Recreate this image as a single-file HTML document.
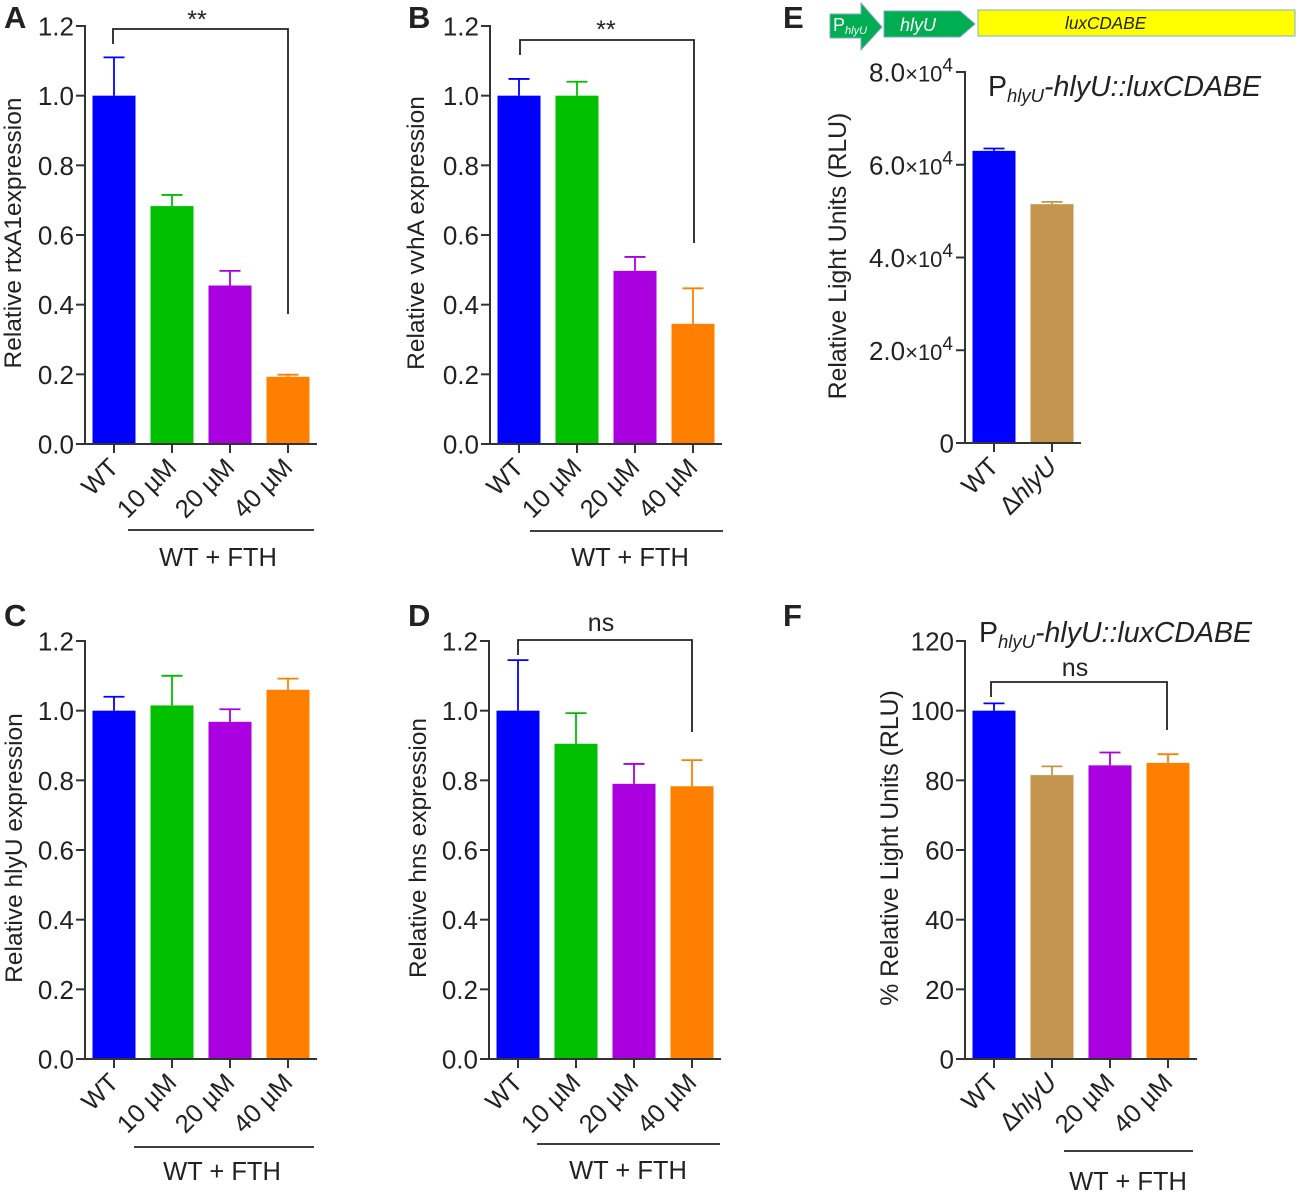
<!DOCTYPE html>
<html>
<head>
<meta charset="utf-8">
<title>FTH expression panels</title>
<style>
html,body{margin:0;padding:0;background:#fff;width:1299px;height:1194px;overflow:hidden}
svg{display:block}
text{font-family:"Liberation Sans",sans-serif;fill:#222}
</style>
</head>
<body>
<svg id="figure" xmlns="http://www.w3.org/2000/svg" width="1299" height="1194" viewBox="0 0 1299 1194">
  <g>
    <polygon points="830,14 861,14 861,3 882,27 861,50 861,38 830,38" fill="#00ad50" stroke="#7fa8c8" stroke-width="1"/>
    <polygon points="884,11 960,11 975,24 960,37 884,37" fill="#00ad50" stroke="#7fa8c8" stroke-width="1"/>
    <rect x="978" y="10" width="317" height="26" fill="#ffff00" stroke="#7fb0d0" stroke-width="1"/>
    <text x="833" y="31" font-size="18" style="fill:#fff">P<tspan font-size="11" font-style="italic" dy="3">hlyU</tspan></text>
    <text x="900" y="31" font-size="18" font-style="italic" style="fill:#fff">hlyU</text>
    <text x="1065" y="29" font-size="17.2" font-style="italic">luxCDABE</text>
  </g>
  <text x="988" y="96" font-size="28.5">P<tspan font-size="18.5" font-style="italic" dy="6">hlyU</tspan><tspan font-style="italic" dy="-6">-hlyU::luxCDABE</tspan></text>
  <text x="979" y="642" font-size="28.5">P<tspan font-size="18.5" font-style="italic" dy="6">hlyU</tspan><tspan font-style="italic" dy="-6">-hlyU::luxCDABE</tspan></text>
</svg>
<script>
const SVG_NS = 'http://www.w3.org/2000/svg';

const categoriesFTH = ['WT', '10 µM', '20 µM', '40 µM'];
const categoriesE = ['WT', 'ΔhlyU'];
const categoriesF = ['WT', 'ΔhlyU', '20 µM', '40 µM'];

const valuesA = [1.0, 0.683, 0.455, 0.193];
const errorsA = [0.11, 0.032, 0.042, 0.006];
const valuesB = [1.0, 1.0, 0.497, 0.345];
const errorsB = [0.048, 0.04, 0.04, 0.102];
const valuesC = [1.0, 1.015, 0.968, 1.06];
const errorsC = [0.04, 0.085, 0.036, 0.032];
const valuesD = [1.0, 0.905, 0.79, 0.783];
const errorsD = [0.145, 0.088, 0.057, 0.075];
const valuesE = [63000, 51500];
const errorsE = [500, 500];
const valuesF = [100, 81.5, 84.3, 85];
const errorsF = [2.1, 2.5, 3.7, 2.5];

const ticksRatio = [0, 0.2, 0.4, 0.6, 0.8, 1.0, 1.2];
const ticksRatioLabels = ['0.0', '0.2', '0.4', '0.6', '0.8', '1.0', '1.2'];
const ticksE = [0, 20000, 40000, 60000, 80000];
const ticksELabels = ['0', '2.0', '4.0', '6.0', '8.0'];
const ticksF = [0, 20, 40, 60, 80, 100, 120];
const ticksFLabels = ['0', '20', '40', '60', '80', '100', '120'];

const BLUE = '#0000ff', GREEN = '#00c000', PURPLE = '#aa00e0', ORANGE = '#ff8000', TAN = '#c4954f';
const root = document.getElementById('figure');

function make(tag, parent, props) {
  const el = document.createElementNS(SVG_NS, tag);
  for (const k in props) el.setAttribute(k, props[k]);
  parent.appendChild(el);
  return el;
}

function drawPanel(p) {
  const yScale = v => p.yZero - (v / p.yMax) * (p.yZero - p.yTop);
  const xScale = i => p.firstCenter + i * p.step;

  const g = make('g', root, {});
  
  

  const letter = make('text', g, {x: p.letterX, y: p.letterY, 'font-size': 31, 'font-weight': 'bold'});
  
  
  letter.textContent = p.id.toUpperCase();

  const title = make('text', g, {
    transform: 'translate(' + p.titleX + ',' + p.titleY + ') rotate(-90)',
    'text-anchor': 'middle', 'font-size': p.titleSize
  });
  
  
  title.textContent = p.title;

  p.values.forEach((v, i) => {
    const cx = xScale(i);
    const color = p.colors[i];
    const top = yScale(v);
    const errTop = yScale(v + p.errors[i]);

    const stem = make('line', g, {x1: cx, x2: cx, y1: top, y2: errTop, stroke: color, 'stroke-width': 1.8});
    
    

    const cap = make('line', g, {x1: cx - 10.5, x2: cx + 10.5, y1: errTop, y2: errTop, stroke: color, 'stroke-width': 1.8});
    
    

    const bar = make('rect', g, {x: cx - 21.5, y: top, width: 43, height: p.yZero - top, fill: color});
    
    

    const tick = make('line', g, {x1: cx, x2: cx, y1: p.yZero, y2: p.yZero + 9, stroke: '#333', 'stroke-width': 2});
    
    

    const name = p.categories[i];
    const lx = cx + 6;
    const ly = p.yZero + 25;
    const label = make('text', g, {
      transform: 'translate(' + lx + ',' + ly + ') rotate(-45)',
      'text-anchor': 'end', 'font-size': 25.5
    });
    
    
    if (name.startsWith('Δ')) {
      const d = make('tspan', label, {});
      d.textContent = 'Δ';
      const rest = make('tspan', label, {'font-style': 'italic'});
      rest.textContent = name.slice(1);
    } else {
      label.textContent = name;
    }
  });

  const yAxis = make('line', g, {x1: p.axisX, x2: p.axisX, y1: p.yTop - 1, y2: p.yZero + 1, stroke: '#333', 'stroke-width': 2});
  
  

  const xAxis = make('line', g, {x1: p.axisX - 9, x2: p.axisEnd, y1: p.yZero, y2: p.yZero, stroke: '#333', 'stroke-width': 2});
  
  

  p.ticks.forEach((t, i) => {
    const y = yScale(t);
    const tick = make('line', g, {x1: p.axisX - 9, x2: p.axisX, y1: y, y2: y, stroke: '#333', 'stroke-width': 2});
    
    

    const label = make('text', g, {
      x: p.axisX - (p.sci && t !== 0 ? 12 : 11), y: y + 9.5, 'text-anchor': 'end', 'font-size': 26
    });
    
    
    label.textContent = p.tickLabels[i];
    if (p.sci && t !== 0) {
      const times = make('tspan', label, {'font-size': 22});
      times.textContent = '×10';
      const exp = make('tspan', label, {'font-size': 19, dy: -10});
      exp.textContent = p.sciExp;
    }
  });

  if (p.bracket) {
    const b = p.bracket;
    const path = make('polyline', g, {
      points: b.x1 + ',' + b.y1 + ' ' + b.x1 + ',' + b.top + ' ' + b.x2 + ',' + b.top + ' ' + b.x2 + ',' + b.y2,
      fill: 'none', stroke: '#222', 'stroke-width': 1.8
    });
    
    

    const mark = make('text', g, {x: b.labelX, y: b.labelY, 'text-anchor': 'middle', 'font-size': b.size});
    
    
    mark.textContent = b.label;
  }

  if (p.group) {
    const gr = p.group;
    const line = make('line', g, {x1: gr.x1, x2: gr.x2, y1: gr.y, y2: gr.y, stroke: '#222', 'stroke-width': 1.8});
    
    

    const txt = make('text', g, {x: gr.labelX, y: gr.labelY, 'text-anchor': 'middle', 'font-size': 25.5});
    
    
    txt.textContent = 'WT + FTH';
  }
}

const fthColors = [BLUE, GREEN, PURPLE, ORANGE];

drawPanel({id: 'a', letterX: 4, letterY: 28, title: 'Relative rtxA1expression', titleX: 21, titleY: 233, titleSize: 24.5,
  categories: categoriesFTH, values: valuesA, errors: errorsA, colors: fthColors,
  ticks: ticksRatio, tickLabels: ticksRatioLabels, yMax: 1.2, yZero: 444, yTop: 26,
  axisX: 85, axisEnd: 317, firstCenter: 114, step: 58,
  bracket: {x1: 113, x2: 288, top: 29, y1: 44, y2: 314, label: '**', labelX: 197, labelY: 28, size: 25},
  group: {x1: 128, x2: 314, y: 530, labelX: 218, labelY: 566}});

drawPanel({id: 'b', letterX: 408, letterY: 28, title: 'Relative vvhA expression', titleX: 424, titleY: 233, titleSize: 24.5,
  categories: categoriesFTH, values: valuesB, errors: errorsB, colors: fthColors,
  ticks: ticksRatio, tickLabels: ticksRatioLabels, yMax: 1.2, yZero: 444, yTop: 26,
  axisX: 490, axisEnd: 722, firstCenter: 519, step: 58,
  bracket: {x1: 520, x2: 694, top: 40, y1: 55, y2: 243, label: '**', labelX: 606, labelY: 38, size: 25},
  group: {x1: 530, x2: 723, y: 531, labelX: 630, labelY: 566}});

drawPanel({id: 'c', letterX: 4, letterY: 626, title: 'Relative hlyU expression', titleX: 22, titleY: 848, titleSize: 24.5,
  categories: categoriesFTH, values: valuesC, errors: errorsC, colors: fthColors,
  ticks: ticksRatio, tickLabels: ticksRatioLabels, yMax: 1.2, yZero: 1059, yTop: 641,
  axisX: 85, axisEnd: 317, firstCenter: 114, step: 58,
  group: {x1: 134, x2: 314, y: 1147, labelX: 222, labelY: 1180}});

drawPanel({id: 'd', letterX: 408, letterY: 626, title: 'Relative hns expression', titleX: 426, titleY: 848, titleSize: 24.5,
  categories: categoriesFTH, values: valuesD, errors: errorsD, colors: fthColors,
  ticks: ticksRatio, tickLabels: ticksRatioLabels, yMax: 1.2, yZero: 1059, yTop: 641,
  axisX: 489, axisEnd: 721, firstCenter: 518, step: 58,
  bracket: {x1: 518, x2: 692, top: 640, y1: 655, y2: 732, label: 'ns', labelX: 601, labelY: 631, size: 25},
  group: {x1: 537, x2: 720, y: 1144, labelX: 628, labelY: 1179}});

drawPanel({id: 'e', letterX: 783, letterY: 28, title: 'Relative Light Units (RLU)', titleX: 846, titleY: 256, titleSize: 24.8,
  categories: categoriesE, values: valuesE, errors: errorsE, colors: [BLUE, TAN],
  ticks: ticksE, tickLabels: ticksELabels, sci: true, sciExp: '4', yMax: 80000, yZero: 443, yTop: 72,
  axisX: 965, axisEnd: 1081, firstCenter: 994, step: 58});

drawPanel({id: 'f', letterX: 783, letterY: 626, title: '% Relative Light Units (RLU)', titleX: 898, titleY: 848, titleSize: 24.8,
  categories: categoriesF, values: valuesF, errors: errorsF, colors: [BLUE, TAN, PURPLE, ORANGE],
  ticks: ticksF, tickLabels: ticksFLabels, yMax: 120, yZero: 1059, yTop: 641,
  axisX: 965, axisEnd: 1197, firstCenter: 994, step: 58,
  bracket: {x1: 991, x2: 1167, top: 682, y1: 697, y2: 730, label: 'ns', labelX: 1075, labelY: 676, size: 25},
  group: {x1: 1064, x2: 1193, y: 1151, labelX: 1128, labelY: 1190}});
</script>
</body>
</html>
